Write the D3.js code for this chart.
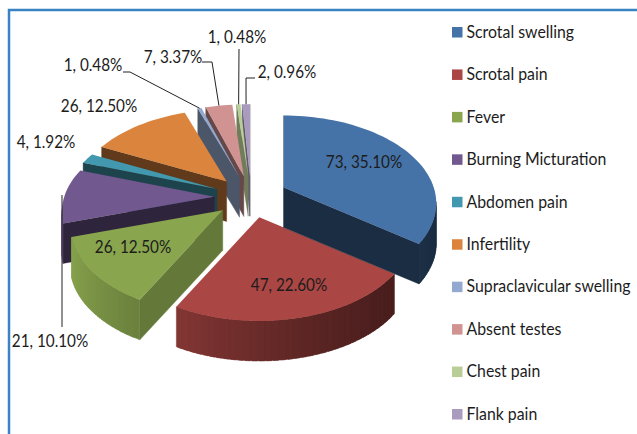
<!DOCTYPE html>
<html lang="en">
<head>
    <meta charset="UTF-8">
    <title>Presenting symptoms</title>
    <script src="https://d3js.org/d3.v7.min.js"></script>
    <style>
        body { margin: 0; padding: 0; background: #fff; }
        text { font-family: 'Lato', sans-serif; font-size: 17px; fill: #1c1c1c; }
        .legend-row text { font-size: 17.6px; }
    </style>
</head>
<body>
    <svg id="chart" width="637" height="434"></svg>

    <script>
        // Chart data
        const categories = ["Scrotal swelling", "Scrotal pain", "Fever", "Burning Micturation", "Abdomen pain",
            "Infertility", "Supraclavicular swelling", "Absent testes", "Chest pain", "Flank pain"];
        const counts = [73, 47, 26, 21, 4, 26, 1, 7, 1, 2];

        const colors = ["#4572a7", "#aa4643", "#89a54e", "#71588f", "#4198af",
            "#db843d", "#93a9cf", "#d19392", "#b9cd96", "#a99bbd"];
        // how much darker the cut faces are than the top of the slice
        const wallDarken = [2.6, 2.4, 0.9, 2.5, 2.3, 2.3, 1.9, 2, 1.4, 1.6];

        // label centres, in drawing order of the slices
        const labelPos = [[364, 161], [289, 284], [133, 246], [50, 340], [46, 141],
            [99, 105], [93, 64], [173, 56], [237, 36], [287, 71]];
        // leader lines: start next to the label, optional elbow, then the rim of the slice
        const leaders = [
            { i: 3, pts: [[62, 327]], end: [62, 195] },
            { i: 6, pts: [[123, 72], [130, 72]] },
            { i: 7, pts: [[202, 62], [212, 62]] },
            { i: 8, pts: [[239, 49]] },
            { i: 9, pts: [[255, 78], [246, 78]] }
        ];

        // Pie geometry
        const cx = 251, cy = 197;
        const rx = 150, ry = 85;
        const perspective = 0.18;
        const explode = 0.245;
        const depth = 40;

        const svg = d3.select("#chart");
        const total = d3.sum(counts);

        const pie = d3.pie().sort(null).value(d => d);
        const arcs = pie(counts);

        const closed = d3.line().curve(d3.curveLinearClosed);

        function apex(d) {
            const mid = (d.startAngle + d.endAngle) / 2;
            return [cx + rx * explode * Math.sin(mid), cy - ry * explode * Math.cos(mid)];
        }

        function rim(d, a) {
            const o = apex(d);
            const u = Math.sin(a), v = -Math.cos(a);
            const s = 1 / (1 - perspective * v);
            return [o[0] + rx * u * s, o[1] + ry * v * s];
        }

        const cross = (a, b, c) => (b[0] - a[0]) * (c[1] - a[1]) - (b[1] - a[1]) * (c[0] - a[0]);

        // a wall hangs below the edge p-q, it only shows if the slice top lies above that edge
        function wall(g, p, q, inner, fill) {
            const below = [p[0], p[1] + depth];
            if (Math.abs(cross(p, q, inner)) < 1e-6) return;
            if (Math.sign(cross(p, q, below)) === Math.sign(cross(p, q, inner))) return;
            g.append("path")
                .attr("d", closed([p, q, [q[0], q[1] + depth], below]))
                .attr("fill", fill)
                .attr("stroke", fill)
                .attr("stroke-width", 0.4);
        }

        // Frame
        svg.append("path")
            .attr("d", d3.line()([[9, 434], [9, 10], [637, 10]]))
            .attr("fill", "none")
            .attr("stroke", "#3b82c4")
            .attr("stroke-width", 2.5);

        // Slices, back to front
        const order = [9, 8, 7, 6, 5, 4, 3, 2, 1, 0];
        order.forEach(i => {
            const d = arcs[i];
            const g = svg.append("g");
            const o = apex(d);
            const base = d3.color(colors[i]);
            const cutFill = base.darker(wallDarken[i]).formatHex();
            const midAngle = (d.startAngle + d.endAngle) / 2;
            const midRim = rim(d, midAngle);

            wall(g, o, rim(d, d.startAngle), midRim, cutFill);
            wall(g, o, rim(d, d.endAngle), midRim, cutFill);

            const steps = Math.max(2, Math.ceil((d.endAngle - d.startAngle) / 0.04));
            const angles = d3.range(steps + 1).map(k => d.startAngle + (d.endAngle - d.startAngle) * k / steps);

            // curved outside wall, lighter towards the left; each piece runs on under the next to hide seams
            d3.pairs(angles).forEach(([a, b]) => {
                const shade = 1.35 + 1.35 * Math.sin((a + b) / 2);
                const overrun = Math.min(b + 0.03, d.endAngle);
                wall(g, rim(d, a), rim(d, overrun), o, base.darker(shade).formatHex());
            });

            g.append("path")
                .attr("d", closed([o, ...angles.map(a => rim(d, a))]))
                .attr("fill", colors[i]);
        });

        // Leader lines
        leaders.forEach(l => {
            const d = arcs[l.i];
            const last = l.end || rim(d, (d.startAngle + d.endAngle) / 2);
            svg.append("path")
                .attr("d", d3.line()([...l.pts, last]))
                .attr("fill", "none")
                .attr("stroke", "#222")
                .attr("stroke-width", 1);
        });

        // Data labels
        counts.forEach((c, i) => {
            svg.append("text")
                .attr("transform", `translate(${labelPos[i][0]},${labelPos[i][1]}) scale(0.9,1)`)
                .attr("text-anchor", "middle")
                .attr("dominant-baseline", "central")
                .text(`${c}, ${(c / total * 100).toFixed(2)}%`);
        });

        // Legend
        const legendY = d3.scalePoint().domain(categories).range([32, 414]);
        const legend = svg.selectAll(".legend-row")
            .data(categories)
            .enter().append("g")
            .attr("class", "legend-row")
            .attr("transform", d => `translate(452,${legendY(d)})`);

        legend.append("rect")
            .attr("y", -5)
            .attr("width", 10.5)
            .attr("height", 10.5)
            .attr("fill", (d, i) => colors[i]);

        legend.append("text")
            .attr("transform", "translate(14.5,-1) scale(0.9,1)")
            .attr("dominant-baseline", "central")
            .text(d => d);
    </script>
</body>
</html>
